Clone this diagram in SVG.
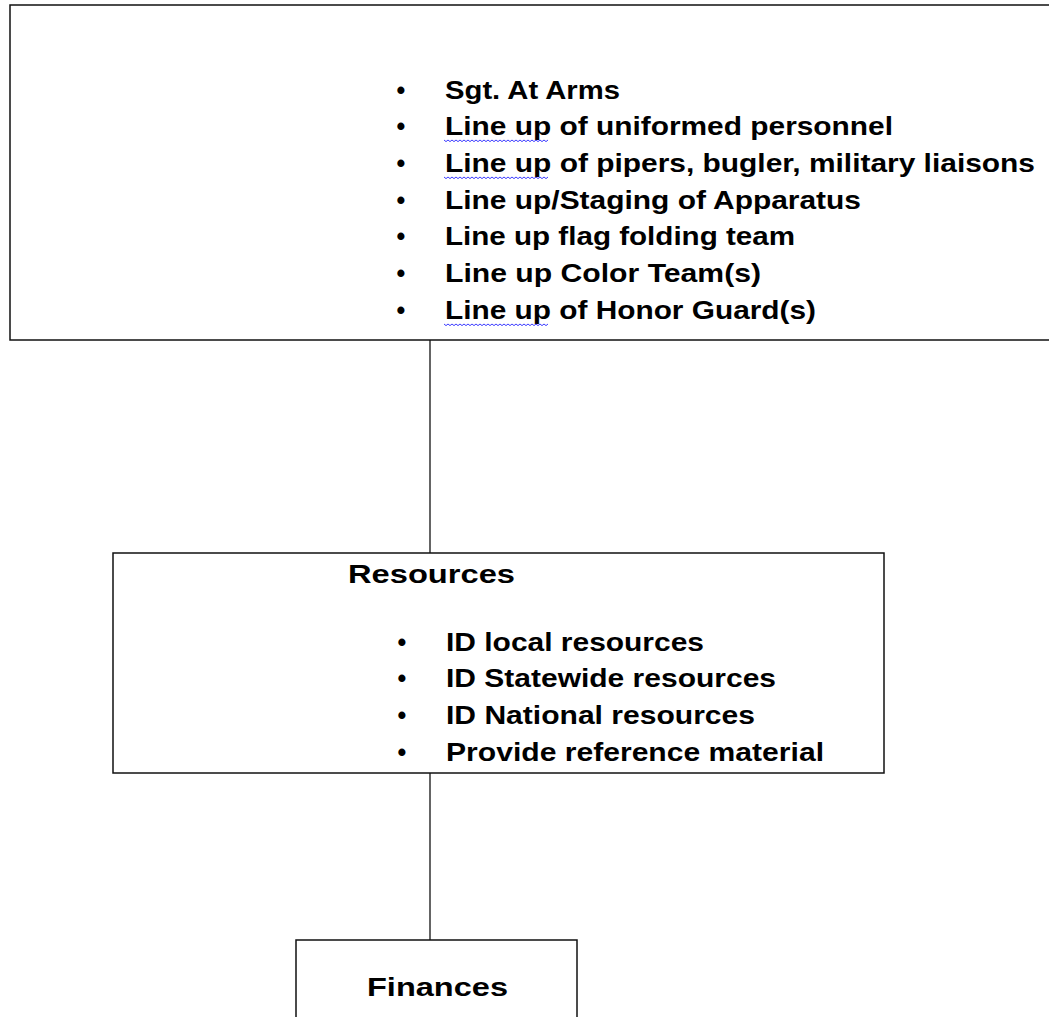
<svg xmlns="http://www.w3.org/2000/svg" width="1049" height="1017" viewBox="0 0 1049 1017">
<style>
.box{fill:#fff;stroke:#111;stroke-width:1.5}
.conn{stroke:#111;stroke-width:1.3;fill:none}
.t{font-family:"Liberation Sans",Arial,sans-serif;font-weight:bold;font-size:25px;fill:#000}
.b{font-family:"Liberation Sans",Arial,sans-serif;font-weight:bold;font-size:25px;fill:#000;text-anchor:middle}
.sq{stroke:#3b3bff;stroke-width:1;fill:none}
</style>
<defs>
<path id="wavy" d="M0,0 l2,1.6 l2,-1.6 l2,1.6 l2,-1.6 l2,1.6 l2,-1.6 l2,1.6 l2,-1.6 l2,1.6 l2,-1.6 l2,1.6 l2,-1.6 l2,1.6 l2,-1.6 l2,1.6 l2,-1.6 l2,1.6 l2,-1.6 l2,1.6 l2,-1.6 l2,1.6 l2,-1.6 l2,1.6 l2,-1.6 l2,1.6 l2,-1.6 l2,1.6 l2,-1.6 l2,1.6 l2,-1.6 l2,1.6 l2,-1.6 l2,1.6 l2,-1.6 l2,1.6 l2,-1.6 l2,1.6 l2,-1.6 l2,1.6 l2,-1.6 l2,1.6 l2,-1.6 l2,1.6 l2,-1.6 l2,1.6 l2,-1.6 l2,1.6 l2,-1.6 l2,1.6 l2,-1.6 l2,1.6 l2,-1.6"/>
</defs>
<rect width="1049" height="1017" fill="#fff"/>
<g id="connectors">
<line class="conn" x1="430" y1="340" x2="430" y2="553"/>
<line class="conn" x1="430" y1="773" x2="430" y2="940"/>
</g>
<g id="node-top">
<rect class="box" x="10" y="5" width="1060" height="335"/>
<g>
<text class="b" x="401" y="99">•</text><text class="t" x="445" y="99" textLength="175" lengthAdjust="spacingAndGlyphs">Sgt. At Arms</text>
<text class="b" x="401" y="135">•</text><text class="t" x="445" y="135" textLength="448" lengthAdjust="spacingAndGlyphs">Line up of uniformed personnel</text>
<text class="b" x="401" y="172">•</text><text class="t" x="445" y="172" textLength="590" lengthAdjust="spacingAndGlyphs">Line up of pipers, bugler, military liaisons</text>
<text class="b" x="401" y="209">•</text><text class="t" x="445" y="209" textLength="416" lengthAdjust="spacingAndGlyphs">Line up/Staging of Apparatus</text>
<text class="b" x="401" y="245">•</text><text class="t" x="445" y="245" textLength="350" lengthAdjust="spacingAndGlyphs">Line up flag folding team</text>
<text class="b" x="401" y="282">•</text><text class="t" x="445" y="282" textLength="316" lengthAdjust="spacingAndGlyphs">Line up Color Team(s)</text>
<text class="b" x="401" y="319">•</text><text class="t" x="445" y="319" textLength="371" lengthAdjust="spacingAndGlyphs">Line up of Honor Guard(s)</text>
</g>
<use class="sq" href="#wavy" x="444" y="140"/>
<use class="sq" href="#wavy" x="444" y="177"/>
<use class="sq" href="#wavy" x="444" y="324"/>
</g>
<g id="node-resources">
<rect class="box" x="113" y="553" width="771" height="220"/>
<text class="t" x="348" y="583" font-size="26" textLength="167" lengthAdjust="spacingAndGlyphs">Resources</text>
<g>
<text class="b" x="402" y="651">•</text><text class="t" x="446" y="651" textLength="258" lengthAdjust="spacingAndGlyphs">ID local resources</text>
<text class="b" x="402" y="687">•</text><text class="t" x="446" y="687" textLength="330" lengthAdjust="spacingAndGlyphs">ID Statewide resources</text>
<text class="b" x="402" y="724">•</text><text class="t" x="446" y="724" textLength="309" lengthAdjust="spacingAndGlyphs">ID National resources</text>
<text class="b" x="402" y="761">•</text><text class="t" x="446" y="761" textLength="378" lengthAdjust="spacingAndGlyphs">Provide reference material</text>
</g>
</g>
<g id="node-finances">
<rect class="box" x="296" y="940" width="281" height="100"/>
<text class="t" x="367" y="996" font-size="30" textLength="141" lengthAdjust="spacingAndGlyphs">Finances</text>
</g>
</svg>
